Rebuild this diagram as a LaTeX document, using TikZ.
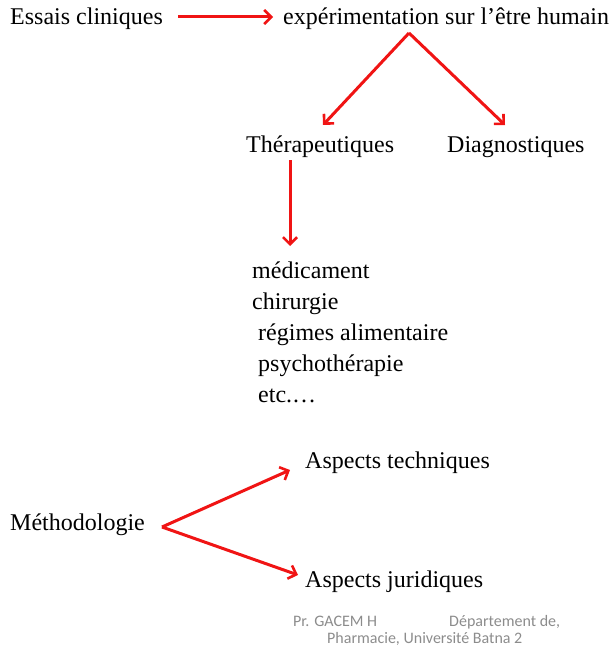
\documentclass[tikz,border=0pt]{standalone}
\usepackage{fontspec}
\setmainfont{Liberation Serif}
\newfontfamily\footfont{Carlito}
\usetikzlibrary{arrows.meta}
\definecolor{arrred}{RGB}{240,20,20}
\definecolor{footgray}{RGB}{140,140,140}
\tikzset{
  lbl/.style={anchor=base west,inner sep=0pt,font=\fontsize{24}{28}\selectfont},
  foot/.style={anchor=base west,inner sep=0pt,text=footgray,font=\footfont\fontsize{16}{18}\selectfont},
  arr/.style={draw=arrred,line width=3pt,-{Straight Barb[length=7pt,width=14pt,line width=2.6pt]}}
}
\begin{document}
\begin{tikzpicture}[x=1pt,y=-1pt]
\useasboundingbox (0,0) rectangle (610,650);
\node[lbl] (ess) at (10,25) {Essais cliniques};
\node[lbl] (exp) at (283,25) {expérimentation sur l’être humain};
\node[lbl] (ther) at (246,152) {Thérapeutiques};
\node[lbl] (diag) at (447,152) {Diagnostiques};
\node[lbl] (l1) at (252,278) {médicament};
\node[lbl] (l2) at (252,309) {chirurgie};
\node[lbl] (l3) at (258,340) {régimes alimentaire};
\node[lbl] (l4) at (258,371) {psychothérapie};
\node[lbl] (l5) at (258,402) {etc.…};
\node[lbl] (asp1) at (305,468) {Aspects techniques};
\node[lbl] (meth) at (10,530) {Méthodologie};
\node[lbl] (asp2) at (305,587) {Aspects juridiques};
\node[foot] (f1) at (293,626) {Pr. GACEM H};
\node[foot] (f2) at (449,626) {Département de,};
\node[foot] (f3) at (327,643) {Pharmacie, Université Batna 2};
% connectors
\coordinate (a1s) at (178,17);
\coordinate (a1e) at (273,17);
\draw[arr] (a1s) -- (a1e);
\coordinate (apex) at (409,33);
\coordinate (tther) at (323,125);
\coordinate (tdiag) at (505,125);
\draw[arr] (apex) -- (tther);
\draw[arr] (apex) -- (tdiag);
\coordinate (dstart) at (290,160);
\coordinate (dend) at (290,246);
\draw[arr] (dstart) -- (dend);
\coordinate (mfork) at (162,527);
\coordinate (tasp1) at (290,470);
\coordinate (tasp2) at (298,575);
\draw[arr] (mfork) -- (tasp1);
\draw[arr] (mfork) -- (tasp2);
\end{tikzpicture}
\end{document}
